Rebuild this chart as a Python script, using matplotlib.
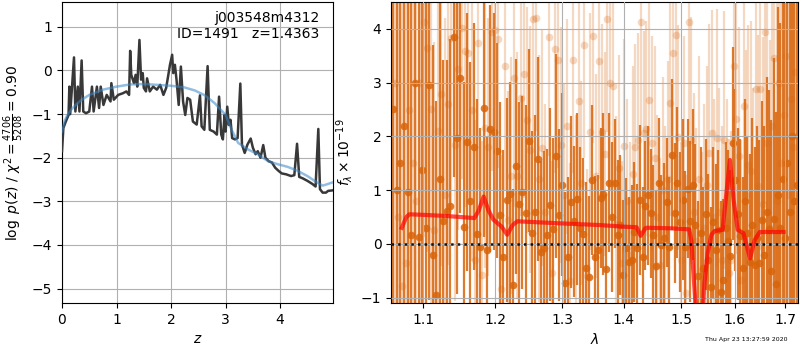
import numpy as np
import matplotlib
matplotlib.use('Agg')
import matplotlib.pyplot as plt
from matplotlib.ticker import FixedLocator, FixedFormatter, NullLocator

# --- redshift probability panel ---
z_grid = [0.00, 0.025, 0.07, 0.12, 0.135, 0.15, 0.22, 0.245, 0.29, 0.32, 0.36, 0.39, 0.44, 0.50,
          0.55, 0.58, 0.64, 0.68, 0.71, 0.76, 0.82, 0.89, 0.905, 0.95, 1.03, 1.12, 1.18, 1.23,
          1.25, 1.27, 1.32, 1.35, 1.38, 1.42, 1.45, 1.48, 1.50, 1.54, 1.56, 1.61, 1.67, 1.74,
          1.80, 1.86, 1.91, 1.95, 1.98, 2.02, 2.04, 2.07, 2.10, 2.14, 2.18, 2.22, 2.26, 2.30,
          2.35, 2.40, 2.47, 2.53, 2.56, 2.61, 2.67, 2.71, 2.78, 2.84, 2.88, 2.92, 2.95, 2.98,
          3.00, 3.03, 3.06, 3.09, 3.12, 3.17, 3.22, 3.27, 3.30, 3.35, 3.40, 3.46, 3.50, 3.55,
          3.59, 3.64, 3.69, 3.73, 3.79, 3.85, 3.91, 3.97, 4.03, 4.11, 4.20, 4.26, 4.31, 4.35,
          4.41, 4.50, 4.59, 4.65, 4.70, 4.73, 4.78, 4.84, 4.88, 4.95]
log_pz = [-1.85, -1.32, -1.17, -1.02, -0.37, -1.00, 0.30, -0.94, -0.37, -0.94, 0.23, -0.94, -0.98, -0.94,
          -0.37, -0.94, -0.37, -0.86, -0.37, -0.79, -0.56, -0.71, -0.29, -0.67, -0.56, -0.52, -0.48, -0.56,
          0.45, -0.10, -0.29, -0.10, -0.37, 0.70, -0.21, -0.06, -0.40, -0.48, -0.18, -0.48, -0.37, -0.44,
          -0.33, -0.56, -0.40, -0.10, 0.13, 0.36, -0.06, 0.13, -0.21, -0.79, 0.09, -0.71, -1.02, -0.63,
          -0.67, -1.17, -1.24, -0.57, -1.28, -1.36, 0.10, -1.36, -1.40, -1.47, -0.60, -1.47, -1.58, -1.02,
          -1.40, -0.83, -1.25, -1.13, -1.55, -1.58, -1.55, -0.30, -1.70, -1.89, -1.70, -1.56, -1.77, -1.92,
          -1.85, -2.00, -1.71, -2.00, -2.08, -2.11, -2.23, -2.30, -2.36, -2.38, -2.42, -2.40, -1.68, -2.44,
          -2.47, -2.53, -2.60, -2.66, -1.34, -2.72, -2.80, -2.80, -2.76, -2.75]

z_prior = [0.0, 0.05, 0.10, 0.18, 0.25, 0.35, 0.50, 0.75, 1.00, 1.25, 1.50, 1.75, 2.00, 2.25, 2.44,
           2.62, 2.80, 3.00, 3.11, 3.23, 3.41, 3.59, 3.78, 3.96, 4.14, 4.32, 4.50, 4.68, 4.78, 4.88, 4.95]
log_prior = [-1.40, -1.15, -1.02, -0.88, -0.79, -0.68, -0.56, -0.44, -0.37, -0.32, -0.31, -0.33, -0.35,
             -0.39, -0.46, -0.57, -0.75, -1.02, -1.36, -1.66, -1.81, -1.92, -2.08, -2.15, -2.21, -2.30,
             -2.42, -2.57, -2.64, -2.60, -2.57]

# --- 1D spectrum panel (pixel grid of the grism, microns) ---
wave_step = 0.0047
wave_start_a = 1.0610
wave_start_b = 1.0629

flux_a = [2.5, 1.0,
          1.5, 2.2, 0.97, 0.17, 2.99, 0.12, 1.38, 0.29, 2.96, -0.2,
          -0.95, 1.2, 0.42, 0.62, 0.71, 3.84, 1.97, 3.08, 0.31, 1.90,
          0.79, 1.81, 0.19, -0.05, 2.52, -0.12, 2.14, 2.09, 1.73, 0.54,
          -0.25, 0.82, 0.92, -0.77, 1.44, 0.74, 0.96, 0.58, 1.92, 0.2,
          0.6, 1.58, -0.15, -0.08, 0.17, 0.73, 0.27, 1.64, 0.54, 1.1,
          -0.73, -0.25, 0.78, 0.42, 0.83, 0.3, 0.19, -0.44, -0.61, 1.19,
          -0.24, -0.11, 0.85, 0.93, -0.47, 1.14, 0.5, 1.13, 0.16, 0.35,
          -0.58, -0.08, -0.33, -0.3, 0.22, -0.08, 0.82, -0.24, 0.71, 0.9,
          0.57, 0.17, -0.42, 1.14, -0.02, 0.1, 0.77, -0.05, 1.66, 0.57,
          1.14, 0.4, 0.82, -0.05, 1.03, 0.42, 1.10, 0.35, -0.6, 0.2,
          -0.45, 0.55, -0.3, -0.81, 0.4, -0.12, 0.25, -0.9, -0.67, 0.3,
          0.05, -0.22, 1.87, 1.19, 0.55, 0.15, -0.45, 0.80, 0.2, -0.33,
          0.35, -0.39, 0.1, -0.36, 0.45, -0.2, 0.6, 0.27, -0.5, 0.46,
          -0.74, 0.9, 0.3, 1.2, 0.1, 1.5, 0.6, 2.0, 0.8, 1.1]
err_a = [9.0, 9.0,
         8.0, 7.5, 6.0, 5.5, 5.0, 4.8, 4.5, 4.2, 4.0, 3.9,
         3.6, 3.4, 3.0, 2.8, 3.1, 2.6, 2.9, 2.5, 2.7, 2.4,
         2.6, 2.3, 2.5, 2.2, 2.4, 2.1, 2.3, 2.2, 2.0, 2.1,
         2.0, 1.9, 2.1, 1.8, 2.0, 1.9, 1.8, 2.0, 1.7, 1.9,
         1.8, 1.9, 1.7, 1.8, 1.6, 1.8, 1.7, 1.9, 1.6, 1.7,
         1.7, 1.5, 1.6, 1.4, 1.6, 1.5, 1.4, 1.6, 1.5, 1.4,
         1.5, 1.4, 1.3, 1.5, 1.4, 1.3, 1.4, 1.2, 1.4, 1.3,
         1.4, 1.3, 1.2, 1.4, 1.3, 1.2, 1.4, 1.3, 1.2, 1.3,
         1.2, 1.3, 1.4, 1.2, 1.3, 1.4, 1.2, 1.3, 1.4, 1.3,
         1.4, 1.3, 1.5, 1.4, 1.3, 1.5, 1.4, 1.5, 1.4, 1.6,
         1.5, 1.4, 1.6, 1.5, 1.4, 1.6, 1.5, 1.7, 1.5, 1.6,
         1.7, 1.6, 1.8, 1.7, 1.6, 1.8, 1.7, 1.9, 1.8, 2.0,
         2.0, 2.2, 2.1, 2.3, 2.2, 2.4, 2.5, 2.6, 2.8, 3.0,
         3.2, 3.5, 3.8, 4.2, 4.6, 5.0, 5.5, 6.0, 7.0, 8.0]

flux_b = [3.0, 0.5,
          -0.79, -0.36, 2.49, 1.5, 0.79, 3.0, 4.13, 3.64, 2.5, 0.26,
          2.1, 2.78, 0.9, 2.6, 3.83, 1.84, 3.25, 4.01, 3.58, 3.55,
          2.49, -0.3, 3.73, -0.58, 2.15, 1.81, 3.95, 3.98, 3.81, -0.84,
          3.3, 0.45, 1.27, 3.08, 1.27, 2.72, 3.16, 2.31, 1.75, 4.18,
          4.2, 1.21, 1.78, 0.6, 3.84, -0.55, 3.62, 3.42, 1.84, 0.9,
          2.19, -0.7, 3.42, 0.4, 2.66, 1.13, 3.70, -0.6, 2.09, 3.87,
          1.26, 3.4, 2.09, 1.67, 4.18, 3.0, 2.94, 0.37, 1.41, -0.35,
          1.82, 0.8, -0.2, 1.3, 1.81, 1.93, 4.12, 2.06, 2.14, 2.67,
          1.87, 1.59, 0.5, -0.4, 1.0, 0.2, 1.2, 2.62, 3.56, 3.89,
          1.98, -0.3, 1.87, -0.92, 4.12, 1.93, 0.6, 0.06, 1.2, -0.5,
          0.3, 1.1, 1.69, 2.06, 0.5, 1.97, 0.6, -0.3, 1.93, 0.4,
          -0.55, -0.3, 3.30, 2.32, 1.64, -0.67, 2.57, 0.9, 1.47, 1.35,
          0.2, 2.88, 1.08, 2.88, 0.74, 3.95, 1.87, 0.3, 2.2, 3.45,
          0.8, 3.0, 1.5, 2.4, 3.5, 0.9, 2.7, 1.8, 3.2, 2.0]
err_b = [8.0, 8.0,
         7.0, 6.5, 6.0, 5.5, 5.0, 4.5, 4.0, 3.8, 3.6, 3.5,
         3.4, 3.2, 3.3, 3.0, 3.1, 2.9, 3.0, 2.8, 2.9, 2.7,
         2.8, 2.6, 2.7, 2.5, 2.6, 2.4, 2.6, 2.5, 2.4, 2.5,
         2.3, 2.4, 2.2, 2.4, 2.3, 2.2, 2.3, 2.1, 2.3, 2.2,
         2.1, 2.3, 2.2, 2.0, 2.2, 2.1, 2.3, 2.0, 2.2, 2.1,
         2.0, 2.2, 2.1, 2.0, 2.2, 1.9, 2.1, 2.0, 2.2, 2.0,
         1.9, 2.1, 2.0, 1.9, 2.1, 2.0, 1.9, 2.0, 2.1, 1.9,
         2.0, 1.9, 2.1, 2.0, 1.9, 2.0, 2.1, 1.9, 2.0, 2.1,
         2.0, 2.1, 1.9, 2.0, 2.1, 2.0, 2.2, 2.1, 2.0, 2.2,
         2.1, 2.2, 2.0, 2.2, 2.1, 2.3, 2.2, 2.1, 2.3, 2.2,
         2.3, 2.2, 2.4, 2.3, 2.2, 2.4, 2.3, 2.5, 2.4, 2.3,
         2.5, 2.4, 2.6, 2.5, 2.4, 2.6, 2.5, 2.7, 2.6, 2.8,
         2.7, 2.9, 2.8, 3.0, 3.1, 3.2, 3.3, 3.5, 3.7, 3.9,
         4.2, 4.5, 4.8, 5.0, 5.5, 6.0, 6.5, 7.0, 7.5, 8.0]

model_wave = [1.072, 1.078, 1.082, 1.100, 1.130, 1.160, 1.170, 1.176, 1.183, 1.190, 1.197, 1.209,
              1.217, 1.225, 1.232, 1.300, 1.360, 1.400, 1.422, 1.429, 1.437, 1.440, 1.480, 1.515,
              1.519, 1.522, 1.526, 1.530, 1.537, 1.543, 1.549, 1.556, 1.562, 1.577, 1.583, 1.591,
              1.598, 1.606, 1.617, 1.630, 1.639, 1.649, 1.697]
model_flux = [0.30, 0.50, 0.55, 0.54, 0.52, 0.49, 0.48, 0.62, 0.88, 0.62, 0.45, 0.32,
              0.17, 0.35, 0.42, 0.38, 0.35, 0.32, 0.31, 0.15, 0.29, 0.30, 0.29, 0.27,
              0.05, -0.45, -1.05, -1.8, -1.8, -0.73, -0.17, 0.17, 0.24, 0.26, 0.82, 1.56,
              0.82, 0.26, 0.20, -0.27, 0.07, 0.22, 0.22]

wave_ticks = [1.1, 1.2, 1.3, 1.4, 1.5, 1.6, 1.7]

wave_a = wave_start_a + wave_step * np.arange(len(flux_a))
wave_b = wave_start_b + wave_step * np.arange(len(flux_b))

fig = plt.figure(figsize=(8, 3.5), dpi=100)

# left: p(z)
ax1 = fig.add_axes([0.0775, 0.1343, 0.3388, 0.86])
ax1.plot(z_grid, log_pz, color='0.22', lw=1.8, zorder=3)
ax1.plot(z_prior, log_prior, color='#3a87c8', alpha=0.55, lw=1.8, zorder=4)
ax1.set_xlim(0, 4.97)
ax1.set_ylim(-5.33, 1.57)
ax1.set_xticks([0, 1, 2, 3, 4])
ax1.set_yticks([-5, -4, -3, -2, -1, 0, 1])
ax1.grid()
ax1.set_xlabel('$z$')
ax1.set_ylabel(r'$\log\ p(z)$ / $\chi^2=\frac{4706}{5208}=0.90$')
ax1.text(0.95, 0.97, 'j003548m4312\nID=1491   z=1.4363', transform=ax1.transAxes,
         ha='right', va='top', multialignment='right', fontsize=10)

# right: spectrum
ax2 = fig.add_axes([0.489, 0.1343, 0.5085, 0.86])
base = '#d8640a'
ax2.errorbar(wave_b, flux_b, yerr=err_b, marker='o', ms=5.5, mew=0, linestyle='none',
             color=base, alpha=0.25, elinewidth=1.6, zorder=1)
ax2.errorbar(wave_a, flux_a, yerr=err_a, marker='o', ms=5.5, mew=0, linestyle='none',
             color=base, alpha=0.85, elinewidth=1.6, zorder=2)
ax2.plot(model_wave, model_flux, color='red', alpha=0.7, lw=3, zorder=3)
ax2.axhline(0, color='k', linestyle=':', lw=1.8, alpha=0.9, zorder=5)

ax2.set_xscale('log')
ax2.set_xlim(1.0585, 1.7268)
ax2.set_ylim(-1.1, 4.5)
ax2.xaxis.set_major_locator(FixedLocator(wave_ticks))
ax2.xaxis.set_major_formatter(FixedFormatter(['%.1f' % w for w in wave_ticks]))
ax2.xaxis.set_minor_locator(NullLocator())
ax2.set_yticks([-1, 0, 1, 2, 3, 4])
ax2.set_axisbelow(False)
ax2.grid()
ax2.set_xlabel(r'$\lambda$')
ax2.set_ylabel(r'$f_\lambda\times10^{-19}$')

fig.text(0.984, 0.022, 'Thu Apr 23 13:27:59 2020', ha='right', va='bottom', fontsize=4.5)

fig.savefig('out.png', dpi=100)
